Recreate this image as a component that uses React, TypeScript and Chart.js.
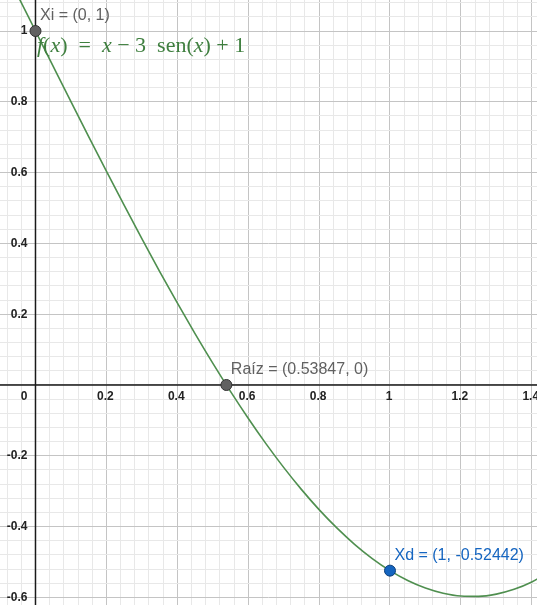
import React, { useEffect, useRef } from "react";
import { Chart, registerables } from "chart.js";

Chart.register(...registerables);

// Curve samples of f(x) = x - 3 sen(x) + 1
const curveX = [-0.1, -0.05, 0, 0.05, 0.1, 0.15, 0.2, 0.25, 0.3, 0.35, 0.4, 0.45, 0.5, 0.55, 0.6, 0.65, 0.7, 0.75, 0.8, 0.85, 0.9, 0.95, 1.0, 1.05, 1.1, 1.15, 1.2, 1.25, 1.3, 1.35, 1.4, 1.45];
const curveY = [1.1995, 1.0999, 1.0, 0.9001, 0.8005, 0.7017, 0.604, 0.5078, 0.4134, 0.3213, 0.2317, 0.1451, 0.0617, -0.0181, -0.0939, -0.1656, -0.2327, -0.2949, -0.3521, -0.4038, -0.45, -0.4902, -0.5244, -0.5523, -0.5736, -0.5883, -0.5961, -0.597, -0.5907, -0.5772, -0.5564, -0.5281];

// Named points
const pointNames = ["Xi", "Raíz", "Xd"];
const pointX = [0, 0.53847, 1];
const pointY = [1, 0, -0.52442];
const pointLabels = ["Xi = (0, 1)", "Raíz = (0.53847, 0)", "Xd = (1, -0.52442)"];
const pointFill = ["#616161", "#616161", "#1565c0"];
const pointBorder = ["#333333", "#333333", "#0d3f7a"];
const labelColor = ["#616161", "#616161", "#1565c0"];

// Tick labels
const xTickValues = [0.2, 0.4, 0.6, 0.8, 1, 1.2, 1.4];
const xTickLabels = ["0.2", "0.4", "0.6", "0.8", "1", "1.2", "1.4"];
const yTickValues = [1, 0.8, 0.6, 0.4, 0.2, -0.2, -0.4, -0.6];
const yTickLabels = ["1", "0.8", "0.6", "0.4", "0.2", "-0.2", "-0.4", "-0.6"];

const X_MIN = -0.1001;
const X_MAX = 1.4147;
const Y_MIN = -0.6215;
const Y_MAX = 1.0876;
const MINOR = 0.04;
const MAJOR = 0.2;

const CURVE_COLOR = "#4f8f4f";

function gridTicks(min: number, max: number) {
  const out: { value: number }[] = [];
  const start = Math.ceil(min / MINOR);
  const end = Math.floor(max / MINOR);
  for (let i = start; i <= end; i++) out.push({ value: Math.round(i * MINOR * 1e6) / 1e6 });
  return out;
}

function isMajor(v: number) {
  const r = v / MAJOR;
  return Math.abs(r - Math.round(r)) < 1e-6;
}

const gridColor = (ctx: any) => {
  const v = ctx.tick ? ctx.tick.value : 0;
  return isMajor(v) ? "#c4c4c4" : "#e8e8e8";
};

const axesPlugin = {
  id: "ggbAxes",
  beforeDatasetsDraw(chart: any) {
    const { ctx, scales } = chart;
    const x0 = scales.x.getPixelForValue(0);
    const y0 = scales.y.getPixelForValue(0);
    ctx.save();
    ctx.strokeStyle = "#1a1a1a";
    ctx.lineWidth = 1.5;
    ctx.beginPath();
    ctx.moveTo(0, y0);
    ctx.lineTo(chart.width, y0);
    ctx.moveTo(x0, 0);
    ctx.lineTo(x0, chart.height);
    ctx.stroke();

    ctx.fillStyle = "#222";
    ctx.font = "bold 12px 'Liberation Sans', Arial, sans-serif";
    ctx.textBaseline = "middle";
    ctx.textAlign = "center";
    xTickValues.forEach((v, i) => {
      const px = scales.x.getPixelForValue(v);
      ctx.fillText(xTickLabels[i], px - 1, y0 + 12);
    });
    ctx.textAlign = "right";
    yTickValues.forEach((v, i) => {
      const py = scales.y.getPixelForValue(v);
      ctx.fillText(yTickLabels[i], x0 - 8, py);
    });
    ctx.fillText("0", x0 - 8, y0 + 12);
    ctx.restore();
  },
  afterDatasetsDraw(chart: any) {
    const { ctx, scales } = chart;
    ctx.save();
    ctx.font = "16px 'Liberation Sans', Arial, sans-serif";
    ctx.textBaseline = "middle";
    ctx.textAlign = "left";
    pointNames.forEach((_, i) => {
      const px = scales.x.getPixelForValue(pointX[i]);
      const py = scales.y.getPixelForValue(pointY[i]);
      ctx.fillStyle = labelColor[i];
      ctx.fillText(pointLabels[i], px + 4.5, py - 15);
    });

    // formula label
    const segs: [string, boolean][] = [
      ["f", true], ["(", false], ["x", true], [")", false], ["  =  ", false],
      ["x", true], [" − 3  sen", false], ["(", false], ["x", true], [")", false], [" + 1", false],
    ];
    let cx = scales.x.getPixelForValue(0) + 1.5;
    const base = scales.y.getPixelForValue(1) + 21;
    ctx.fillStyle = "#3f7f3f";
    ctx.textBaseline = "alphabetic";
    segs.forEach(([t, it]) => {
      ctx.font = (it ? "italic " : "") + "22px 'Liberation Serif', 'Times New Roman', serif";
      ctx.fillText(t, cx, base);
      cx += ctx.measureText(t).width;
    });
    ctx.restore();
  },
};

export default function App() {
  const ref = useRef<HTMLCanvasElement | null>(null);
  useEffect(() => {
    document.body.style.margin = "0";
    if (!ref.current) return;
    const chart = new Chart(ref.current, {
      type: "line",
      data: {
        datasets: [
          {
            type: "scatter",
            data: pointX.map((x, i) => ({ x, y: pointY[i] })),
            backgroundColor: pointFill,
            borderColor: pointBorder,
            pointBackgroundColor: pointFill,
            pointBorderColor: pointBorder,
            pointRadius: 5.5,
            pointBorderWidth: 1,
            showLine: false,
            clip: false,
          } as any,
          {
            type: "line",
            data: curveX.map((x, i) => ({ x, y: curveY[i] })),
            borderColor: CURVE_COLOR,
            borderWidth: 1.6,
            pointRadius: 0,
            tension: 0.4,
            cubicInterpolationMode: "monotone",
            fill: false,
          } as any,
        ],
      },
      options: {
        animation: false,
        responsive: false,
        layout: { padding: 0, autoPadding: false },
        plugins: { legend: { display: false }, tooltip: { enabled: false } },
        scales: {
          x: {
            type: "linear",
            min: X_MIN,
            max: X_MAX,
            ticks: { display: false, padding: 0 },
            border: { display: false },
            grid: { color: gridColor, drawTicks: false, lineWidth: 1, tickLength: 0 },
            afterBuildTicks: (s: any) => { s.ticks = gridTicks(X_MIN, X_MAX); },
          },
          y: {
            type: "linear",
            min: Y_MIN,
            max: Y_MAX,
            ticks: { display: false, padding: 0 },
            border: { display: false },
            grid: { color: gridColor, drawTicks: false, lineWidth: 1, tickLength: 0 },
            afterBuildTicks: (s: any) => { s.ticks = gridTicks(Y_MIN, Y_MAX); },
          },
        },
      },
      plugins: [axesPlugin],
    });
    return () => chart.destroy();
  }, []);
  return (
    <div style={{ width: 537, height: 605, background: "#fff" }}>
      <canvas ref={ref} width={537} height={605} style={{ display: "block" }} />
    </div>
  );
}
